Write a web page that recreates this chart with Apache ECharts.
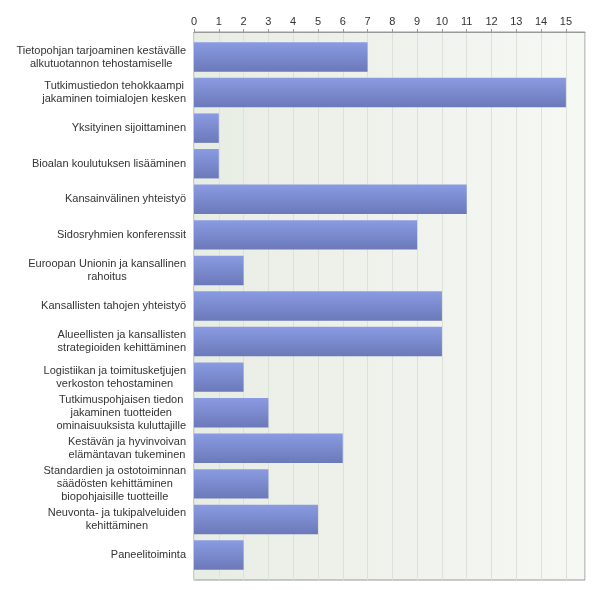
<!DOCTYPE html>
<html>
<head>
<meta charset="utf-8">
<script src="https://cdn.jsdelivr.net/npm/echarts@6/dist/echarts.min.js"></script>
<style>
html,body{margin:0;padding:0;background:#fff;}
#c{width:600px;height:595px;}
</style>
</head>
<body>
<div id="c"></div>
<script>
var categories = [
  "Tietopohjan tarjoaminen kestävälle\nalkutuotannon tehostamiselle",
  "Tutkimustiedon tehokkaampi\njakaminen toimialojen kesken",
  "Yksityinen sijoittaminen",
  "Bioalan koulutuksen lisääminen",
  "Kansainvälinen yhteistyö",
  "Sidosryhmien konferenssit",
  "Euroopan Unionin ja kansallinen\nrahoitus",
  "Kansallisten tahojen yhteistyö",
  "Alueellisten ja kansallisten\nstrategioiden kehittäminen",
  "Logistiikan ja toimitusketjujen\nverkoston tehostaminen",
  "Tutkimuspohjaisen tiedon\njakaminen tuotteiden\nominaisuuksista kuluttajille",
  "Kestävän ja hyvinvoivan\nelämäntavan tukeminen",
  "Standardien ja ostotoiminnan\nsäädösten kehittäminen\nbiopohjaisille tuotteille",
  "Neuvonta- ja tukipalveluiden\nkehittäminen",
  "Paneelitoiminta"
];
var values = [7, 15, 1, 1, 11, 9, 2, 10, 10, 2, 3, 6, 3, 5, 2];
var xTicks = [0,1,2,3,4,5,6,7,8,9,10,11,12,13,14,15];

var XMAX = 15.77;
var chart = echarts.init(document.getElementById('c'), null, {renderer:'canvas'});
var font = '"Liberation Sans", Arial, sans-serif';
chart.setOption({
  animation: false,
  grid: [
    {left:194, right:15, top:32, bottom:15, show:true, borderColor:'#999', borderWidth:1,
     backgroundColor: new echarts.graphic.LinearGradient(0,0,1,0,[{offset:0,color:'#e8ede4'},{offset:1,color:'#f6f8f4'}])},
    {left:194, right:15, top:39.2, bottom:22.2}
  ],
  xAxis: [
    {type:'value', gridIndex:0, position:'top', min:0, max:XMAX, interval:1,
     axisLine:{show:true, lineStyle:{color:'#999'}},
     axisTick:{show:true, length:3, inside:false, lineStyle:{color:'#999'}},
     axisLabel:{color:'#333', fontFamily:font, fontSize:11, margin:5, showMaxLabel:false,
       formatter:function(v){ return xTicks.indexOf(v) >= 0 ? String(v) : ''; }},
     splitLine:{show:true, lineStyle:{color:'#dde1da', width:1}}},
    {type:'value', gridIndex:1, min:0, max:XMAX, show:false}
  ],
  yAxis: [
    {type:'category', gridIndex:0, data:[''], show:false},
    {type:'category', gridIndex:1, data:categories, inverse:true,
     axisLine:{show:false}, axisTick:{show:false},
     axisLabel:{margin:8, align:'right', color:'#333', fontFamily:font, fontSize:11, lineHeight:13,
       formatter:function(v){ return v.split('\n').map(function(l){return '{c|'+l+'}';}).join('\n'); },
       rich:{c:{align:'center', fontFamily:font, fontSize:11, lineHeight:13, color:'#333'}}}}
  ],
  series: [{
    type:'bar', xAxisIndex:1, yAxisIndex:1, data:values, barCategoryGap:'17.3%',
    itemStyle:{
      color: new echarts.graphic.LinearGradient(0,0,0,1,[{offset:0,color:'#8a9be2'},{offset:1,color:'#6b79b9'}]),
      borderColor:'#a9b3e6', borderWidth:0
    }
  }]
});
</script>
</body>
</html>
